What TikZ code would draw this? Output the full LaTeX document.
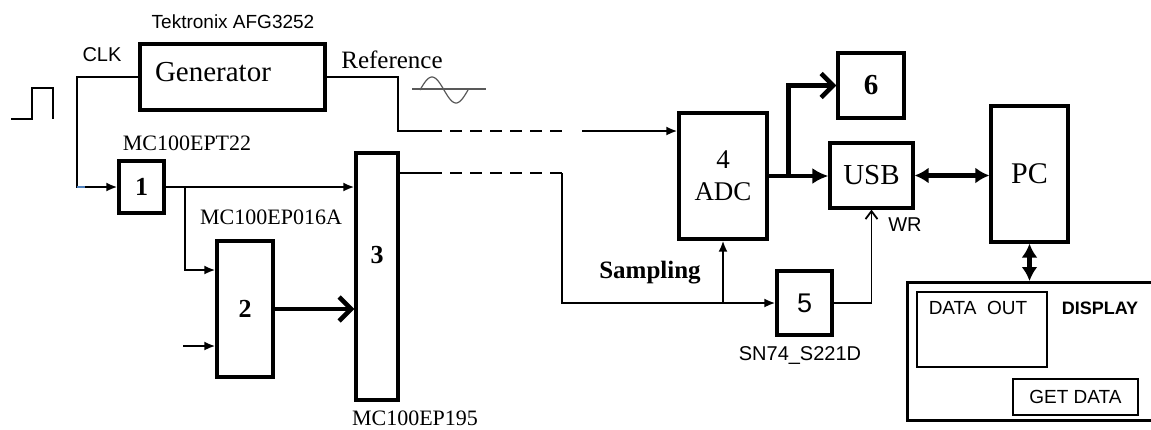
\documentclass[tikz,border=0pt]{standalone}
\usepackage{fontspec}
\setmainfont{Liberation Serif}
\setsansfont{Liberation Sans}
\usetikzlibrary{arrows.meta}
\newcommand{\pxfont}[1]{\fontsize{#1}{#1}\selectfont}

\begin{document}
\begin{tikzpicture}[x=1pt,y=-1pt,
        blk/.style={draw,line width=3.2pt,inner sep=0pt},
        panel/.style={draw,line width=1.4pt,inner sep=0pt},
        wire/.style={line width=2.2pt},
        bus/.style={line width=4.6pt},
        tip/.style={-{Latex[length=11pt,width=9pt]}},
        fat/.style={-{Straight Barb[length=12pt,width=24pt]}},
        broken/.style={dash pattern=on 12pt off 8pt},
        serif/.style={inner sep=0pt,font=\pxfont{22}},
        sans/.style={inner sep=0pt,font=\sffamily\pxfont{20}}]
        \useasboundingbox (0,0) rectangle (1151,429);
        \clip (0,0) rectangle (1151,429);
        % blocks
        \node[blk,minimum width=185,minimum height=66,text width=155,align=left,text depth=10pt,font=\pxfont{29}] (gen) at (232.5,77) {Generator};
        \node[blk,minimum width=45,minimum height=52,font=\bfseries\pxfont{26}] (b1) at (141.5,187) {1};
        \node[blk,minimum width=56,minimum height=136,font=\bfseries\pxfont{26}] (b2) at (245,309) {2};
        \node[blk,minimum width=42,minimum height=247] (b3) at (377,276.5) {};
        \node[font=\bfseries\pxfont{26}] (n3) at (377,255) {3};
        \node[blk,minimum width=88,minimum height=126,align=center,font=\pxfont{27}] (adc) at (723,176) {4\\[5pt]ADC};
        \node[blk,minimum width=66,minimum height=65,font=\bfseries\pxfont{29}] (b6) at (871,85.5) {6};
        \node[blk,minimum width=83,minimum height=65,font=\pxfont{29}] (usb) at (871.5,175.5) {USB};
        \node[blk,minimum width=77,minimum height=136,font=\pxfont{30}] (pc) at (1029.5,174) {PC};
        \node[blk,minimum width=55,minimum height=64,font=\sffamily\pxfont{27}] (b5) at (804.5,303) {5};
        \node[blk,minimum width=260,minimum height=138,anchor=north west] (disp) at (906,281) {};
        \node[panel,minimum width=130,minimum height=75] (dout) at (982,329.5) {};
        \node[sans,font=\sffamily\pxfont{19}] (douttxt) at (978,308) {DATA\ \ OUT};
        \node[inner sep=0pt,font=\sffamily\bfseries\pxfont{18}] (dispt) at (1100,308) {DISPLAY};
        \node[panel,minimum width=125,minimum height=36,font=\sffamily\pxfont{19}] (getd) at (1075.5,397) {GET DATA};
        % labels
        \node[sans,font=\sffamily\pxfont{19}] (tek) at (233,22) {Tektronix AFG3252};
        \node[sans] (clk) at (102,55) {CLK};
        \node[serif,font=\pxfont{25}] (ref) at (392,60) {Reference};
        \node[serif] (ept) at (187,143) {MC100EPT22};
        \node[serif] (epa) at (271,217) {MC100EP016A};
        \node[serif] (epb) at (415,418) {MC100EP195};
        \node[serif,font=\bfseries\pxfont{25}] (samp) at (650,273) {Sampling};
        \node[sans] (sn) at (800,355) {SN74\_S221D};
        \node[sans] (wr) at (905,225) {WR};
        % pulse and sine
        \draw[line width=1.8pt] (11,119) -- (32,119) -- (32,88) -- (53,88) -- (53,119);
        \draw[line width=1.4pt,gray!70!black] (412,89) -- (486,89);
        \draw[line width=1.2pt,gray!70!black,domain=420:468,samples=40,smooth] plot (\x,{90-13*sin(7.5*(\x-420))});
        % clock
        \coordinate (clkc) at (77,77);
        \draw[wire,tip] (gen.west) -- (clkc) |- (b1.west);
        \draw[wire,color={rgb,255:red,79;green,129;blue,189}] (clkc |- b1.west) -- ++(8,0);
        \draw[wire,tip] (b1.east) -- (b1.east -| b3.west);
        \draw[wire,tip] (b1.east) ++(19,0) |- ([yshift=39]b2.west);
        \coordinate (in2) at ([xshift=-32,yshift=-37]b2.west);
        \draw[wire,tip] (in2) -- (in2 -| b2.west);
        \draw[bus,fat] (b2.east) -- (b2.east -| b3.west);
        % reference
        \coordinate (refc) at (398,131);
        \coordinate (rs) at (442,131);
        \coordinate (rd) at (450,131);
        \coordinate (re) at (563,131);
        \coordinate (rf) at (582,131);
        \draw[wire] (gen.east) -| (refc) -- (rs);
        \draw[wire,broken] (rd) -- (re);
        \draw[wire,tip] (rf) -- (rf -| adc.west);
        % sampling
        \coordinate (os) at (442,173);
        \coordinate (od) at (450,173);
        \coordinate (oe) at (562,173);
        \draw[wire] (b3.east |- os) -- (os);
        \draw[wire,broken] (od) -- (oe);
        \draw[wire,tip] (oe) |- (b5.west);
        \draw[wire,tip] (adc.south |- b5.west) -- (adc.south);
        % data
        \draw[bus,-{Latex[length=16pt,width=16pt]}] (adc.east) -- (adc.east -| usb.west);
        \draw[bus,fat] (adc.east) ++(20,0) |- (b6.west);
        \draw[line width=1.8pt,-{Straight Barb[length=8pt,width=12pt]}] (b5.east) -| (usb.south);
        \draw[bus,{Latex[length=14pt,width=16pt]}-{Latex[length=14pt,width=16pt]}] (usb.east) -- (usb.east -| pc.west);
        \draw[bus,{Latex[length=14pt,width=16pt]}-{Latex[length=14pt,width=16pt]}] (pc.south) -- (pc.south |- disp.north);
    \end{tikzpicture}
\end{document}
